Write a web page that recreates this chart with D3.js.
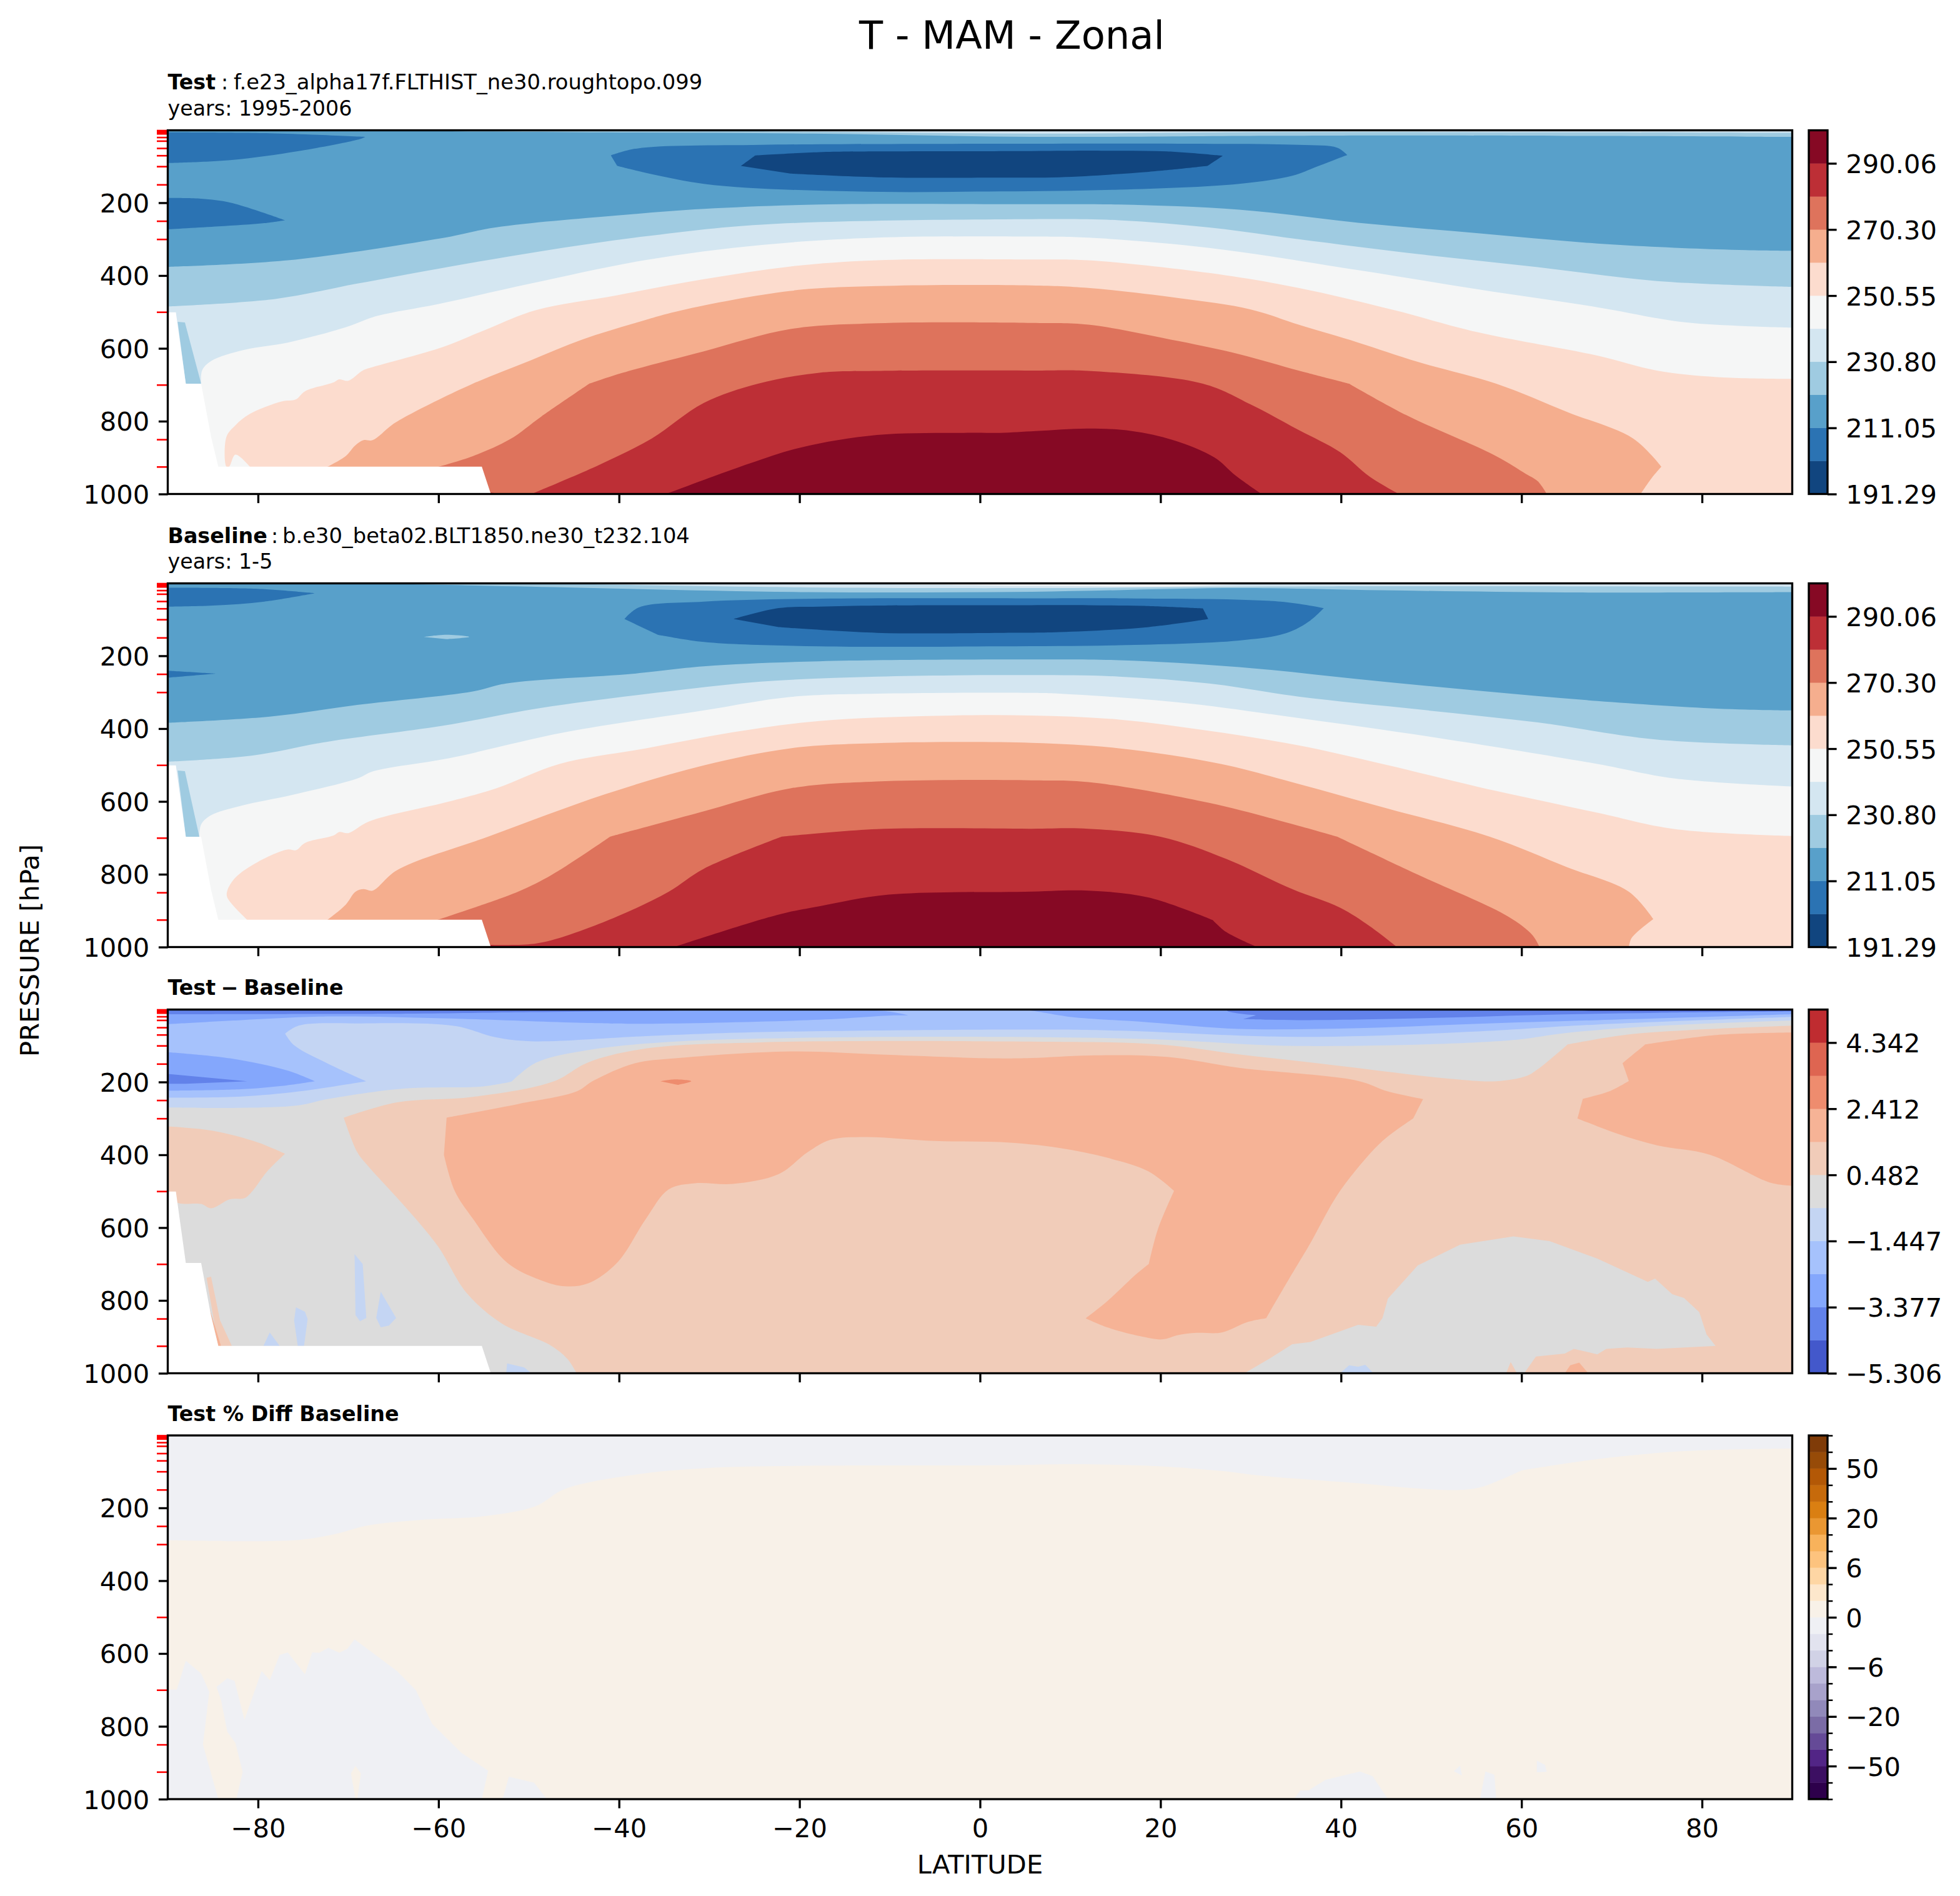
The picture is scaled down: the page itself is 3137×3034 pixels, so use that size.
<!DOCTYPE html>
<html>
<head>
<meta charset="utf-8">
<script src="https://cdn.jsdelivr.net/npm/d3@7"></script>
<style>
  html, body { margin: 0; padding: 0; background: #fff; }
  svg { display: block; }
  text { font-family: "DejaVu Sans"; fill: #000; }
</style>
</head>
<body>
<div id="chart"></div>
<script>
// Axis values
const latTicks = [-80, -60, -40, -20, 0, 20, 40, 60, 80];
const presTicks = [200, 400, 600, 800, 1000];
const presLevels = [1, 2, 3, 5, 7, 10, 20, 30, 50, 70, 100, 150, 250, 300, 500, 700, 850, 925];

// Colour bars
const tempColors = ['#11457f', '#2b73b3', '#58a0ca', '#9fcbe1', '#d4e6f1', '#f5f6f6', '#fcdcce', '#f5ae8e', '#de735c', '#bd2f36', '#860924'];
const tempLevels = [191.29, 201.17, 211.05, 220.92, 230.80, 240.68, 250.55, 260.43, 270.30, 280.18, 290.06, 299.93];
const tempTicks = [191.29, 211.05, 230.80, 250.55, 270.30, 290.06];
const diffColors = ['#4358cb', '#6282ea', '#84a7fc', '#a6c2fc', '#c4d5f3', '#dcdcdc', '#f1ccb9', '#f6b396', '#ee8c6e', '#de6551', '#bf2c30'];
const diffLevels = [-5.306, -4.341, -3.377, -2.412, -1.447, -0.482, 0.482, 1.447, 2.412, 3.377, 4.342, 5.306];
const diffTicks = [-5.306, -3.377, -1.447, 0.482, 2.412, 4.342];
const pctColors = ['#2d004b', '#3c0f62', '#522586', '#654a97', '#7b6ca6', '#9189ba', '#a8a2cb', '#bdbadb', '#d1d2e6', '#e2e3ef', '#eff0f4', '#f8f1e8', '#fde7cc', '#fed6a4', '#fdc37e', '#f8b25b', '#ea9732', '#da7f12', '#c66a0b', '#b35806', '#974b08', '#7f3b08'];
const pctLevels = [-100, -75, -50, -40, -30, -20, -15, -10, -6, -4, -2, 0, 2, 4, 6, 10, 15, 20, 30, 40, 50, 75, 100];
const pctTicks = [-50, -20, -6, 0, 6, 20, 50];

// Missing data below ground, same on the first three panels
const groundMask = [[-90, 501], [-89.1, 501], [-88, 697], [-86.3, 697], [-85.2, 843], [-84.4, 925], [-55.2, 925], [-54.2, 1000], [-90, 1000]];

// Contours are [lat, hPa]. A point written twice is a sharp corner on the curve.
// Test panel contours
const testTop3 = [[-70, 1], [-62.6, 3], [-41.5, 6.5], [-18.5, 10], [5.7, 19], [32, 16], [48.5, 15], [90, 19]];
const testTop4 = [[-40, 1], [-18.5, 5], [5.7, 10], [32, 6], [90, 8]];
const testBlobA = [[-90, 6.5], [-78.7, 9], [-68.1, 19], [-68.1, 19], [-68.7, 25], [-75.5, 58], [-83.1, 83], [-90, 91]];
const testBlobB = [[-90, 187], [-86.3, 189], [-83, 200], [-77, 248], [-77, 248], [-79.3, 256], [-84.4, 265], [-90, 273]];
const testBlobC = [[-40.9, 70], [-38, 51], [-24.2, 41], [5.7, 38], [22, 38], [35.3, 41], [39.6, 49], [40.7, 69], [40.7, 69], [37.3, 101], [34.6, 126], [28.7, 148], [15.4, 164], [2.2, 169], [-14, 169], [-30.6, 148], [-40.2, 99]];
const testBlobD = [[-26.5, 99], [-24.9, 70], [-24.9, 70], [-17.8, 61], [-11.4, 59], [5.7, 58], [13.4, 57], [20.7, 59], [26.9, 71], [26.9, 71], [25.2, 99], [25.2, 99], [18.7, 115], [8.8, 130], [2.2, 131], [-11.4, 130], [-21, 120]];
const testSliver = [[-88.9, 527], [-88.1, 529], [-86.3, 697], [-88, 697]];
const testL3 = [[-90, 376], [-76.7, 358], [-59.8, 298], [-53.7, 268], [-40.2, 235], [-30.6, 217], [-17.8, 205], [5.7, 204], [15.4, 205], [28.7, 219], [41.9, 255], [55.2, 284], [68.4, 312], [81.7, 328], [90, 332]];
const testL4 = [[-90, 485], [-78, 464], [-69, 422], [-60, 381], [-48.6, 333], [-37, 292], [-24.2, 260], [5.7, 245], [15.4, 248], [25.4, 268], [35.3, 300], [48.5, 341], [61.8, 377], [75, 415], [90, 431]];
const testL5 = [[-86.3, 697], [-86.2, 661], [-85.2, 635], [-81.5, 604], [-76.7, 584], [-70.3, 542], [-66.8, 511], [-60, 478], [-49.8, 422], [-37, 357], [-24.2, 316], [-11.4, 296], [5.7, 293], [12, 296], [25.4, 324], [41.9, 385], [55.2, 438], [68.4, 487], [78.3, 529], [90, 543]];
const testL6 = [[-80.9, 925], [-82.5, 892], [-83.2, 925], [-83.5, 925], [-83.5, 843], [-82.5, 811], [-80.9, 780], [-77.4, 746], [-75.8, 740], [-74.8, 718], [-71.6, 693], [-71, 685], [-70, 689], [-68.4, 661], [-67.1, 650], [-59.5, 596], [-55, 551], [-49.2, 495], [-40.2, 454], [-30.6, 410], [-21, 375], [-11.4, 358], [5.7, 356], [12, 358], [25.4, 393], [35.3, 434], [45.9, 495], [55.2, 556], [68.4, 620], [75, 661], [81.7, 679], [90, 684]];
const testL7 = [[-72.3, 925], [-70.3, 896], [-69.2, 866], [-68.3, 852], [-67.3, 852], [-65.2, 811], [-63.3, 783], [-56.2, 697], [-49.8, 633], [-44.1, 576], [-38.3, 531], [-33.2, 496], [-21, 442], [-11.4, 429], [5.7, 427], [12, 434], [22, 462], [30, 493], [35.3, 535], [41.9, 584], [48.5, 637], [57.2, 697], [65.1, 775], [72.4, 848], [75.5, 925], [75.5, 925], [74.4, 957], [73.2, 1000]];
const testL8 = [[-60, 925], [-56.2, 896], [-52.1, 850], [-48.6, 787], [-43.3, 697], [-43.3, 697], [-39.6, 667], [-30.6, 608], [-21, 547], [-11.4, 531], [5.7, 530], [12, 535], [22, 580], [28.7, 616], [35.3, 661], [40.9, 697], [40.9, 697], [47.2, 783], [57.2, 896], [60.5, 945], [61.8, 965], [62.8, 1000]];
const testL9 = [[-54.2, 996], [-53, 999], [-49.5, 998], [-49.5, 998], [-42.2, 920], [-36.4, 848], [-30.6, 750], [-24.6, 697], [-17.8, 667], [-11.4, 662], [5.7, 661], [12, 662], [24.7, 697], [30, 754], [35.3, 824], [39.9, 885], [43.2, 953], [46.4, 1000]];
const testL10 = [[-34.8, 1000], [-25.5, 916], [-19.8, 872], [-11.4, 838], [-1.8, 832], [2.2, 832], [6.2, 827], [12, 820], [16.8, 827], [21.4, 852], [26, 900], [28.3, 949], [31.2, 1000]];

// Baseline panel contours
const baseTop3 = [[-72, 1], [-63.7, 3], [-49.8, 10], [-19.1, 25], [5.7, 24], [28.7, 14], [44.6, 20], [65, 26], [90, 25]];
const baseTop4 = [[-49.8, 1], [-19.1, 12], [5.7, 14], [37.9, 9], [90, 10]];
const baseTop5 = [[-25, 1], [-5, 5], [5.7, 8], [22, 9], [30, 3], [40, 1]];
const baseBlobA = [[-90, 13], [-80, 16], [-73.7, 28], [-73.7, 28], [-79.3, 51], [-85, 62], [-90, 65]];
const baseBlobB = [[-90, 241], [-84.7, 249], [-84.7, 249], [-90, 260]];
const baseBlobE = [[-61.6, 148], [-59.1, 142], [-56.6, 148], [-59.1, 154]];
const baseBlobC = [[-39.4, 99], [-37.8, 67], [-30.6, 51], [-17.8, 43], [5.7, 42], [15.4, 42], [33.3, 51], [38.1, 69], [38.1, 69], [36.6, 103], [33.9, 138], [28.7, 158], [15.4, 171], [2.2, 174], [-17.8, 174], [-30.6, 162], [-35.7, 142]];
const baseBlobD = [[-27.3, 99], [-22.3, 69], [-17.8, 65], [-11.4, 62], [5.7, 61], [12, 61], [18, 63], [24.7, 70], [24.7, 70], [25.3, 99], [25.3, 99], [18.7, 121], [8.8, 135], [2.2, 137], [-11.4, 137], [-22.3, 121]];
const baseSliver = [[-88.9, 515], [-88.1, 517], [-86.5, 697], [-88, 697]];
const baseL3 = [[-90, 384], [-78.7, 367], [-69, 335], [-56.2, 298], [-52.5, 276], [-38.3, 249], [-30.6, 229], [-17.8, 215], [5.7, 210], [15.4, 212], [28.7, 231], [41.9, 264], [55.2, 296], [68.4, 324], [81.7, 345], [90, 350]];
const baseL4 = [[-90, 491], [-80.6, 474], [-72.3, 436], [-59.5, 392], [-48.6, 343], [-33.9, 296], [-24.3, 271], [-11.4, 257], [5.7, 253], [15.4, 257], [25.4, 276], [35.3, 312], [48.5, 347], [61.8, 383], [75, 430], [90, 446]];
const baseL5 = [[-86.5, 697], [-86.3, 663], [-85.2, 638], [-81.9, 612], [-76.2, 582], [-69, 537], [-67.2, 517], [-58.8, 481], [-46, 410], [-30.6, 350], [-21, 313], [-11.4, 304], [5.7, 302], [8.8, 304], [22, 328], [35.3, 371], [51.9, 430], [68.4, 497], [77, 537], [90, 559]];
const baseL6 = [[-81.2, 925], [-83.4, 864], [-83.4, 845], [-82.5, 809], [-80, 766], [-76.7, 732], [-75.8, 734], [-74.8, 714], [-71.6, 693], [-71, 684], [-70, 687], [-67.7, 655], [-58.8, 600], [-53.6, 564], [-46.6, 497], [-37, 454], [-27.4, 410], [-17.8, 379], [-5, 365], [5.7, 364], [15.4, 375], [25.4, 406], [35.3, 446], [44.6, 497], [55.2, 560], [68.4, 631], [77, 676], [90, 695]];
const baseL7 = [[-72.3, 925], [-70.3, 884], [-69.2, 848], [-68.3, 841], [-67.3, 845], [-64.6, 789], [-54.3, 695], [-41.5, 580], [-30.6, 501], [-21, 454], [-11.4, 440], [5.7, 439], [15.4, 454], [26.7, 497], [35.3, 552], [45.2, 620], [56.5, 697], [65.1, 781], [71.9, 848], [74.6, 923], [74.6, 923], [72.2, 975], [71.9, 1000]];
const baseL8 = [[-60.1, 925], [-51.2, 848], [-47.4, 801], [-41, 697], [-41, 697], [-30.6, 627], [-21, 564], [-11.4, 545], [5.7, 542], [12, 547], [25.4, 604], [35.3, 667], [39.6, 697], [39.6, 697], [48.5, 801], [58.5, 916], [61.2, 967], [62, 1000]];
const baseL9 = [[-54.3, 994], [-49.8, 992], [-46.6, 975], [-40.2, 916], [-34.5, 848], [-30.6, 785], [-22, 697], [-22, 697], [-11.4, 676], [5.7, 675], [12, 675], [20, 697], [27.3, 758], [34.6, 841], [39.9, 892], [43.2, 943], [46.2, 1000]];
const baseL10 = [[-33.9, 1000], [-22.5, 912], [-17.8, 888], [-10.1, 856], [5, 848], [12, 845], [18.7, 864], [25.8, 926], [25.8, 926], [27.3, 959], [30.7, 1000]];

// Test - Baseline panel contours
const diffCool4 = [[-90, 270], [-81.9, 271], [-75.5, 264], [-72.3, 247], [-63.9, 218], [-55, 212], [-51.9, 199], [-51.9, 199], [-49.2, 147], [-43.4, 112], [-33.8, 89], [-17.8, 78], [2.2, 76], [18.7, 82], [35.3, 101], [58.5, 86], [65.1, 65], [75, 46], [90, 31]];
const diffCool3 = [[-90, 243], [-81.9, 240], [-75.5, 226], [-68, 198], [-68, 198], [-72.3, 149], [-76, 99], [-77, 67], [-77, 67], [-75.5, 45], [-69, 39], [-58.2, 46], [-53.7, 77], [-49.8, 88], [-37, 74], [-24.2, 63], [5.7, 56], [15.4, 59], [35.3, 76], [55.2, 61], [68.4, 42], [90, 21]];
const diffCool2a = [[-90, 41], [-81.9, 30], [-72.3, 20], [-59.5, 25], [-43.4, 38], [-37, 40], [-17.8, 29], [-9.5, 17], [-7.9, 17], [-7.9, 17], [-10.2, 6], [-20, 3]];
const diffCool2b = [[5, 1], [7.2, 10], [10, 21], [18.7, 36], [28.7, 54], [41.9, 52], [55.2, 40], [68.4, 30], [90, 14]];
const diffCool1a = [[-90, 14], [-62.6, 12], [-49.8, 8], [-30.6, 3], [-20, 1]];
const diffCool1b = [[27.4, 1], [27.4, 5], [30.6, 17], [30.6, 17], [29.2, 27], [29.2, 27], [35.3, 30], [48.5, 25], [61.8, 16], [75, 10], [90, 6]];
const diffCool0 = [[60, 1], [70, 5], [90, 4]];
const diffBlob2 = [[-90, 118], [-83.1, 135], [-76.7, 169], [-73.7, 198], [-73.7, 198], [-77.4, 211], [-81.9, 220], [-90, 224]];
const diffBlob1 = [[-90, 178], [-81.2, 198], [-88, 205], [-90, 205]];
const diffWarm6 = [[-44.7, 1000], [-45.7, 961], [-47.6, 923], [-53, 863], [-56.9, 779], [-60.1, 650], [-63.9, 537], [-67.8, 431], [-69, 393], [-70.5, 298], [-70.5, 298], [-64.6, 256], [-56.2, 241], [-47.3, 199], [-43.4, 146], [-37, 108], [-24.2, 91], [5.7, 89], [20, 97], [28.7, 124], [39.3, 154], [52.5, 192], [57.2, 198], [60.5, 184], [61.8, 165], [65.1, 97], [65.1, 97], [72.4, 68], [90, 45]];
const diffWarm7 = [[-59.1, 298], [-51.1, 260], [-44.7, 226], [-42.8, 196], [-38.3, 149], [-33.8, 135], [-21, 116], [-11.4, 124], [1.4, 135], [5.7, 134], [12.1, 127], [20.7, 131], [28.7, 161], [41.9, 197], [45.2, 226], [49.1, 247], [49.1, 247], [48, 300], [48, 300], [44.6, 362], [41.3, 453], [39.3, 522], [36.6, 643], [34.6, 726], [31.7, 849], [31.7, 849], [29.7, 859], [26.8, 888], [24, 889], [22, 895], [20.2, 907], [17.7, 898], [14.1, 874], [11.7, 849], [11.7, 849], [14.1, 802], [17.4, 726], [18.7, 700], [18.7, 700], [19.7, 605], [21.5, 499], [21.5, 499], [18.7, 446], [14.1, 408], [8.8, 381], [2.2, 365], [-5, 362], [-12.7, 351], [-16.6, 359], [-19.1, 393], [-22.3, 453], [-27.4, 480], [-31.6, 478], [-34.5, 495], [-37, 575], [-40.2, 696], [-43.4, 753], [-46, 761], [-48.6, 745], [-52.4, 696], [-56.2, 575], [-58.2, 499], [-59.4, 400]];
const diffWarm7b = [[90, 64], [81.6, 71], [73.7, 97], [73.7, 97], [71.2, 148], [71.2, 148], [71.9, 197], [71.9, 197], [69.7, 226], [66.8, 246], [66.8, 246], [66.2, 300], [66.2, 300], [70.4, 340], [75, 374], [80.9, 400], [87.5, 476], [90, 485]];
const diffWarm8 = [[-35.4, 198], [-33.8, 193], [-32, 198], [-33.5, 208]];
const diffGreyR = [[29.3, 1000], [32, 961], [34.6, 920], [36.6, 914], [41.9, 867], [43.9, 872], [44.6, 848], [45.2, 795], [48.5, 704], [53.2, 647], [59.1, 624], [63.1, 637], [68.4, 685], [74, 749], [74.8, 740], [76.7, 783], [78, 793], [79.7, 832], [80.5, 893], [81.5, 925], [75, 933], [71.7, 929], [69.4, 933], [68.4, 948], [65.8, 933], [64.8, 946], [61.6, 954], [60.3, 1000], [59.5, 1000], [58.8, 969], [58.3, 1000]];
const diffSpotR = [[39.9, 1000], [40.9, 978], [41.9, 982], [42.7, 977], [43.6, 1000]];
const diffWarmR = [[64.8, 1000], [65.4, 978], [66.4, 971], [67.4, 1000]];
const diffLobeL = [[-90, 322], [-85, 334], [-80, 366], [-77, 397], [-77, 397], [-79, 446], [-80.6, 499], [-81.5, 519], [-83.1, 522], [-85.2, 547], [-86.3, 535], [-89, 531], [-90, 500]];
const diffStripL = [[-85.7, 738], [-85.2, 735], [-84.2, 855], [-82.9, 925], [-84.4, 925]];
const diffStripL2 = [[-85.4, 820], [-84.9, 860], [-84.1, 925], [-84.4, 925]];
const diffSpot1 = [[-69.3, 673], [-68.4, 700], [-68, 848], [-68.7, 857], [-69.2, 840]];
const diffSpot2 = [[-66.4, 776], [-64.7, 848], [-65.5, 869], [-66.4, 874], [-66.9, 848]];
const diffSpot3 = [[-75.8, 819], [-74.8, 831], [-74.5, 851], [-74.9, 925], [-75.6, 925], [-76, 855]];
const diffSpot4 = [[-78.7, 888], [-77.6, 925], [-79.4, 925]];
const diffSpot5 = [[-52.4, 973], [-50.5, 984], [-49.7, 1000], [-52.5, 1000]];

// Test % Diff Baseline panel contours
const pctTop = [[-90, 289], [-75.5, 288], [-71, 269], [-68, 249], [-61.4, 232], [-55, 223], [-49.3, 196], [-46, 148], [-38.3, 109], [-30.6, 91], [-17.8, 84], [2.2, 83], [10.3, 80], [19.4, 85], [26.9, 99], [30.9, 111], [42.3, 133], [48.1, 146], [52.7, 151], [55.5, 143], [60, 97], [60, 97], [68.1, 67], [76.7, 46], [82.5, 40], [90, 37]];
const pctLow1 = [[-90, 699], [-89, 699], [-88, 620], [-86.3, 655], [-85.4, 705], [-86.1, 850], [-84.4, 1000], [-90, 1000]];
const pctLow2 = [[-82.4, 1000], [-81.7, 925], [-82.5, 846], [-83.4, 815], [-84.1, 727], [-84.6, 692], [-83.4, 668], [-82.6, 675], [-81.5, 782], [-79.6, 648], [-78.7, 673], [-77.6, 604], [-76.7, 597], [-74.8, 657], [-74, 597], [-73.2, 598], [-72.2, 584], [-71, 598], [-70.1, 587], [-69.3, 561], [-64.6, 648], [-62.5, 701], [-60.7, 793], [-57.5, 872], [-54.5, 922], [-55.2, 1000]];
const pctNotch = [[-69.2, 1000], [-69.7, 929], [-69.2, 909], [-68.6, 929], [-69, 1000]];
const pctLow3 = [[-52.9, 1000], [-52.2, 938], [-49.4, 955], [-48, 1000]];
const pctLow4 = [[34.8, 1000], [35.5, 976], [36.4, 976], [38.3, 947], [42.1, 924], [43.5, 937], [45.2, 1000]];
const pctLow5 = [[53.2, 908], [53.4, 935], [52.5, 923]];
const pctLow6 = [[56, 924], [57, 933], [57.2, 1000], [55.4, 1000]];
const pctLow7 = [[61.7, 894], [62.6, 906], [62.8, 925], [61.7, 926]];

// Layout
const width = 3137;
const height = 3034;
const plotLeft = 268.5;
const plotRight = 2868.5;
const plotH = 582;
const barLeft = 2895;
const barW = 30;
const tickW = 3.33;
const tickLen = 14.6;
const fontSize = 41.67;
const headSize = 33.3;

const svg = d3.select('#chart').append('svg')
  .attr('width', width)
  .attr('height', height);

const x = d3.scaleLinear().domain([-90, 90]).range([plotLeft, plotRight]);

function styleAxis(sel, color, w) {
  sel.select('.domain').remove();
  sel.selectAll('line').attr('stroke', color).attr('stroke-width', w);
  sel.selectAll('text').attr('font-size', fontSize).attr('font-family', '"DejaVu Sans"').attr('fill', '#000').attr('dy', '0.36em');
}

// layers are [colour, contour, straight closing points, keep the contour polygonal]
const down = l => [l, [[l[l.length - 1][0], 1000], [l[0][0], 1000]]];
const up = l => [l, [[l[l.length - 1][0], 1], [l[0][0], 1]]];
const blob = l => [l, []];

function drawPanel(id, top, base, layers, showX) {
  const y = d3.scaleLinear().domain([1, 1000]).range([top, top + plotH]);
  const smooth = d3.line().x(d => x(d[0])).y(d => y(d[1])).curve(d3.curveCatmullRom.alpha(0.5));
  const plain = d3.line().x(d => x(d[0])).y(d => y(d[1]));
  const g = svg.append('g');

  g.append('clipPath').attr('id', 'clip' + id)
    .append('rect')
    .attr('x', plotLeft).attr('y', top)
    .attr('width', plotRight - plotLeft).attr('height', plotH);

  const fills = g.append('g').attr('clip-path', `url(#clip${id})`);
  fills.append('rect')
    .attr('x', plotLeft).attr('y', top)
    .attr('width', plotRight - plotLeft).attr('height', plotH)
    .attr('fill', base);

  fills.selectAll('path')
    .data(layers)
    .enter()
    .append('path')
    .attr('d', d => {
      const head = (d[3] ? plain : smooth)(d[1]);
      const tail = d[2].map(p => `L${x(p[0])},${y(p[1])}`).join('');
      return head + tail + 'Z';
    })
    .attr('fill', d => d[0]);

  // Red ticks at the model levels, under the major ticks
  g.append('g')
    .attr('transform', `translate(${plotLeft},0)`)
    .call(d3.axisLeft(y).tickValues(presLevels).tickSize(17.5).tickFormat(''))
    .call(styleAxis, '#ff0000', 2.6);

  g.append('g')
    .attr('transform', `translate(${plotLeft},0)`)
    .call(d3.axisLeft(y).tickValues(presTicks).tickSize(tickLen).tickPadding(tickLen).tickFormat(d3.format('d')))
    .call(styleAxis, '#000', tickW);

  const xAxis = d3.axisBottom(x).tickValues(latTicks).tickSize(tickLen).tickPadding(tickLen + 2)
    .tickFormat(d => String(d).replace('-', '\u2212'));
  if (!showX) xAxis.tickFormat('');
  g.append('g')
    .attr('transform', `translate(0,${top + plotH})`)
    .call(xAxis)
    .call(styleAxis, '#000', tickW)
    .call(s => s.selectAll('text').attr('dy', '0.71em'));

  g.append('rect')
    .attr('x', plotLeft).attr('y', top)
    .attr('width', plotRight - plotLeft).attr('height', plotH)
    .attr('fill', 'none')
    .attr('stroke', '#000')
    .attr('stroke-width', tickW);
}

function drawLinearBar(top, levels, colors, ticks, fmt) {
  const y = d3.scaleLinear().domain([levels[0], levels[levels.length - 1]]).range([top + plotH, top]);
  const g = svg.append('g');
  g.selectAll('rect')
    .data(colors)
    .enter()
    .append('rect')
    .attr('x', barLeft)
    .attr('y', (d, i) => y(levels[i + 1]))
    .attr('width', barW)
    .attr('height', (d, i) => y(levels[i]) - y(levels[i + 1]))
    .attr('fill', d => d)
    .attr('stroke', d => d)
    .attr('stroke-width', 0.5);
  g.append('g')
    .attr('transform', `translate(${barLeft + barW},0)`)
    .call(d3.axisRight(y).tickValues(ticks).tickSize(tickLen).tickPadding(tickLen)
      .tickFormat(d => fmt(d).replace('-', '\u2212')))
    .call(styleAxis, '#000', tickW);
  g.append('rect')
    .attr('x', barLeft).attr('y', top)
    .attr('width', barW).attr('height', plotH)
    .attr('fill', 'none').attr('stroke', '#000').attr('stroke-width', tickW);
}

function drawPctBar(top) {
  // Level spacing on this bar is even, whatever the value
  const y = d3.scalePoint().domain(pctLevels).range([top + plotH, top]);
  const g = svg.append('g');
  g.selectAll('rect')
    .data(pctColors)
    .enter()
    .append('rect')
    .attr('x', barLeft)
    .attr('y', (d, i) => y(pctLevels[i + 1]))
    .attr('width', barW)
    .attr('height', y.step())
    .attr('fill', d => d)
    .attr('stroke', d => d)
    .attr('stroke-width', 0.5);
  g.append('g')
    .attr('transform', `translate(${barLeft + barW},0)`)
    .call(d3.axisRight(y).tickValues(pctLevels).tickSize(8.3).tickFormat(''))
    .call(styleAxis, '#000', 2.5);
  g.append('g')
    .attr('transform', `translate(${barLeft + barW},0)`)
    .call(d3.axisRight(y).tickValues(pctTicks).tickSize(tickLen).tickPadding(tickLen)
      .tickFormat(d => String(d).replace('-', '\u2212')))
    .call(styleAxis, '#000', tickW);
  g.append('rect')
    .attr('x', barLeft).attr('y', top)
    .attr('width', barW).attr('height', plotH)
    .attr('fill', 'none').attr('stroke', '#000').attr('stroke-width', tickW);
}

const t = tempColors;
drawPanel('a', 208.5, t[2], [
  [t[3], ...up(testTop3)], [t[4], ...up(testTop4)],
  [t[1], ...blob(testBlobA)], [t[1], ...blob(testBlobB)], [t[1], ...blob(testBlobC)], [t[0], ...blob(testBlobD)],
  [t[3], ...down(testL3)], [t[4], ...down(testL4)], [t[3], testSliver, [], true],
  [t[5], ...down(testL5)], [t[6], ...down(testL6)], [t[7], ...down(testL7)],
  [t[8], ...down(testL8)], [t[9], ...down(testL9)], [t[10], ...down(testL10)],
  ['#fff', groundMask, [], true]
], false);

drawPanel('b', 933.5, t[2], [
  [t[3], ...up(baseTop3)], [t[4], ...up(baseTop4)], [t[5], ...up(baseTop5)],
  [t[1], ...blob(baseBlobA)], [t[1], ...blob(baseBlobB)], [t[3], ...blob(baseBlobE)], [t[1], ...blob(baseBlobC)], [t[0], ...blob(baseBlobD)],
  [t[3], ...down(baseL3)], [t[4], ...down(baseL4)], [t[3], baseSliver, [], true],
  [t[5], ...down(baseL5)], [t[6], ...down(baseL6)], [t[7], ...down(baseL7)],
  [t[8], ...down(baseL8)], [t[9], ...down(baseL9)], [t[10], ...down(baseL10)],
  ['#fff', groundMask, [], true]
], false);

const c = diffColors;
drawPanel('c', 1615.5, c[5], [
  [c[4], ...up(diffCool4)], [c[3], ...up(diffCool3)],
  [c[2], ...up(diffCool2a)], [c[2], ...up(diffCool2b)],
  [c[1], ...up(diffCool1a)], [c[1], ...up(diffCool1b)], [c[0], ...up(diffCool0)],
  [c[2], ...blob(diffBlob2)], [c[1], diffBlob1, [], true],
  [c[6], ...down(diffWarm6)], [c[5], diffGreyR, [], true], [c[4], diffSpotR, [], true], [c[7], diffWarmR, [], true],
  [c[7], ...blob(diffWarm7)], [c[7], ...blob(diffWarm7b)], [c[8], ...blob(diffWarm8)],
  [c[6], ...blob(diffLobeL)], [c[6], diffStripL, [], true], [c[7], diffStripL2, [], true],
  [c[4], diffSpot1, [], true], [c[4], diffSpot2, [], true], [c[4], diffSpot3, [], true], [c[4], diffSpot4, [], true], [c[4], diffSpot5, [], true],
  ['#fff', groundMask, [], true]
], false);

const lowC = pctColors[10];
const highC = pctColors[11];
drawPanel('d', 2297, highC, [
  [lowC, ...up(pctTop)], [lowC, pctLow1, [], true], [lowC, pctLow2, [], true], [highC, pctNotch, [], true], [lowC, pctLow3, [], true],
  [lowC, pctLow4, [], true], [lowC, pctLow5, [], true], [lowC, pctLow6, [], true], [lowC, pctLow7, [], true]
], true);

drawLinearBar(208.5, tempLevels, tempColors, tempTicks, d => d.toFixed(2));
drawLinearBar(933.5, tempLevels, tempColors, tempTicks, d => d.toFixed(2));
drawLinearBar(1615.5, diffLevels, diffColors, diffTicks, d => d.toFixed(3));
drawPctBar(2297);

// Titles
svg.append('text')
  .attr('x', 1619.5).attr('y', 78)
  .attr('text-anchor', 'middle').attr('font-size', 62.4)
  .text('T - MAM - Zonal');

function heading(y, bold, colonX, restX, rest) {
  const txt = svg.append('text').attr('x', plotLeft).attr('y', y).attr('font-size', headSize);
  txt.append('tspan').attr('font-weight', 'bold').text(bold);
  txt.append('tspan').attr('x', colonX).text(':');
  txt.append('tspan').attr('x', restX).attr('font-size', 33.75).text(rest);
}
heading(143, 'Test', 354, 374, 'f.e23_alpha17f.FLTHIST_ne30.roughtopo.099');
svg.append('text').attr('x', plotLeft).attr('y', 185).attr('font-size', headSize).text('years: 1995-2006');
heading(869, 'Baseline', 434, 452, 'b.e30_beta02.BLT1850.ne30_t232.104');
svg.append('text').attr('x', plotLeft).attr('y', 910).attr('font-size', headSize).text('years: 1-5');
svg.append('text').attr('x', plotLeft).attr('y', 1592).attr('font-size', headSize)
  .attr('font-weight', 'bold').attr('word-spacing', -3)
  .text('Test \u2212 Baseline');
svg.append('text').attr('x', plotLeft).attr('y', 2274).attr('font-size', headSize)
  .attr('font-weight', 'bold')
  .text('Test % Diff Baseline');

svg.append('text')
  .attr('x', 1568.5).attr('y', 2998)
  .attr('text-anchor', 'middle').attr('font-size', fontSize)
  .text('LATITUDE');

svg.append('text')
  .attr('transform', 'translate(62,1521) rotate(-90)')
  .attr('text-anchor', 'middle').attr('font-size', fontSize)
  .text('PRESSURE [hPa]');
</script>
</body>
</html>
